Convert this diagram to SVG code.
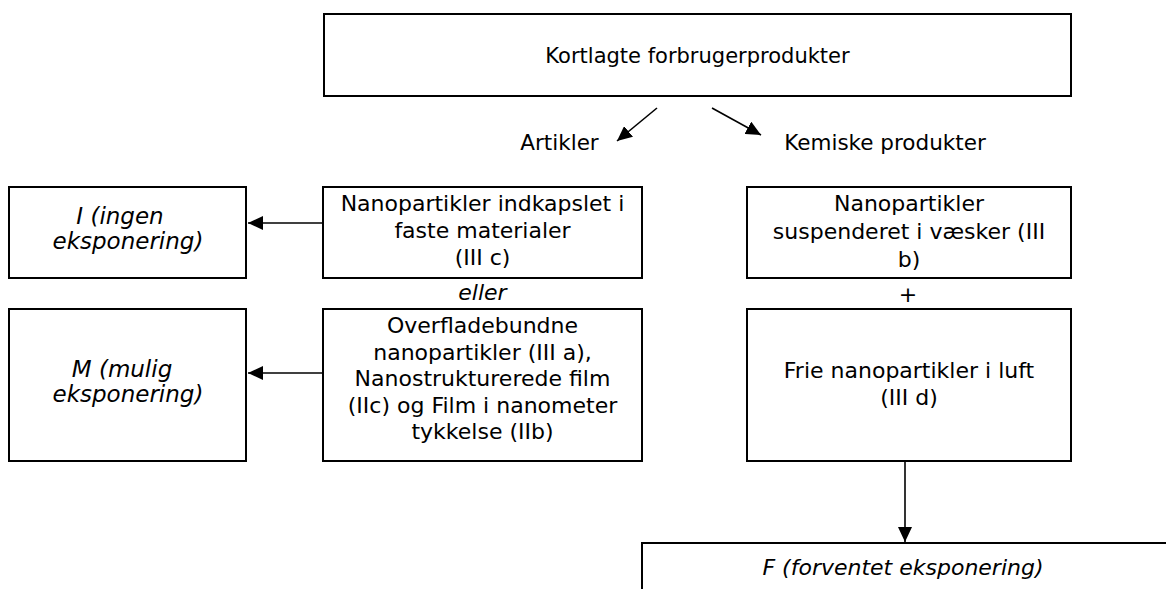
<svg xmlns="http://www.w3.org/2000/svg" width="1166" height="589" viewBox="0 0 1166 589">
<defs>
<style>
.box{fill:#fff;stroke:#000;stroke-width:2}
.t{font-family:"DejaVu Sans","Liberation Sans",sans-serif;font-size:22px;fill:#000;text-anchor:middle}
.i{font-style:italic}
.ib{font-size:23px}
.lbl{font-size:21.5px}
.top{font-size:21px}
.c{stroke:#000;stroke-width:1.6;fill:none;marker-end:url(#ah)}
</style>
<marker id="ah" viewBox="0 0 15 14" refX="15" refY="7" markerWidth="15" markerHeight="14" markerUnits="userSpaceOnUse" orient="auto">
<path d="M0,0 L15,7 L0,14 z" fill="#000"/>
</marker>
</defs>
<rect width="1166" height="589" fill="#fff"/>
<g id="n-top">
<rect class="box" x="324" y="14" width="747" height="82"/>
<text class="t top" x="697.5" y="63">Kortlagte forbrugerprodukter</text>
</g>
<g id="n-artikler">
<text class="t lbl" x="559.5" y="150">Artikler</text>
</g>
<g id="n-kemiske">
<text class="t lbl" x="885" y="150">Kemiske produkter</text>
</g>
<g id="n-I">
<rect class="box" x="9" y="187" width="237" height="91"/>
<text class="t i ib" x="120" y="224">I (ingen</text>
<text class="t i ib" x="128" y="249">eksponering)</text>
</g>
<g id="n-IIIc">
<rect class="box" x="323" y="187" width="319" height="91"/>
<text class="t" x="482.5" y="211">Nanopartikler indkapslet i</text>
<text class="t" x="482.5" y="238">faste materialer</text>
<text class="t" x="482.5" y="265">(III c)</text>
</g>
<g id="n-eller">
<text class="t i" x="482.5" y="300">eller</text>
</g>
<g id="n-IIIa">
<rect class="box" x="323" y="309" width="319" height="152"/>
<text class="t" x="482.5" y="333">Overfladebundne</text>
<text class="t" x="482.5" y="360">nanopartikler (III a),</text>
<text class="t" x="482.5" y="386">Nanostrukturerede film</text>
<text class="t" x="482.5" y="413">(IIc) og Film i nanometer</text>
<text class="t" x="482.5" y="439">tykkelse (IIb)</text>
</g>
<g id="n-M">
<rect class="box" x="9" y="309" width="237" height="152"/>
<text class="t i ib" x="122" y="377">M (mulig</text>
<text class="t i ib" x="128" y="402">eksponering)</text>
</g>
<g id="n-IIIb">
<rect class="box" x="747" y="187" width="324" height="91"/>
<text class="t" x="909" y="211">Nanopartikler</text>
<text class="t" x="909" y="239">suspenderet i væsker (III</text>
<text class="t" x="909" y="267">b)</text>
</g>
<g id="n-plus">
<text class="t" x="908" y="302">+</text>
</g>
<g id="n-IIId">
<rect class="box" x="747" y="309" width="324" height="152"/>
<text class="t" x="909" y="378">Frie nanopartikler i luft</text>
<text class="t" x="909" y="405">(III d)</text>
</g>
<g id="n-F">
<rect class="box" x="642" y="543" width="530" height="60"/>
<text class="t i" x="903" y="575">F (forventet eksponering)</text>
</g>
<g id="connectors">
<line class="c" x1="657" y1="108" x2="617" y2="141"/>
<line class="c" x1="712" y1="108" x2="761" y2="135"/>
<line class="c" x1="322" y1="223" x2="248" y2="223"/>
<line class="c" x1="322" y1="373" x2="248" y2="373"/>
<line class="c" x1="905" y1="462" x2="905" y2="542"/>
</g>
</svg>
